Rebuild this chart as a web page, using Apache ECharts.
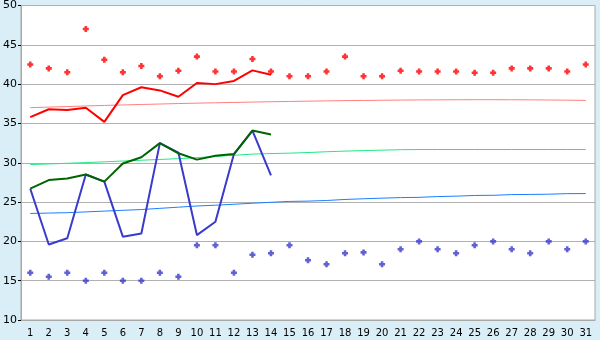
<!DOCTYPE html>
<html><head><meta charset="utf-8">
<script src="https://cdn.jsdelivr.net/npm/echarts@6/dist/echarts.min.js"></script>
<style>html,body{margin:0;padding:0;background:#d9eef6;}#c{width:600px;height:340px;}</style>
</head><body><div id="c"></div>
<script>
const categories = ['1','2','3','4','5','6','7','8','9','10','11','12','13','14','15','16','17','18','19','20','21','22','23','24','25','26','27','28','29','30','31'];
const redLine = [35.8,36.8,36.7,37.0,35.2,38.6,39.6,39.2,38.4,40.15,40.0,40.4,41.75,41.2];
const greenLine = [26.7,27.8,28.0,28.5,27.6,29.9,30.7,32.5,31.2,30.4,30.9,31.1,34.1,33.6];
const blueLine = [26.7,19.6,20.4,28.5,27.6,20.6,21.0,32.5,31.3,20.8,22.5,31.1,34.1,28.4];
const redPoints = [42.5,42,41.5,47,43.1,41.5,42.3,41,41.7,43.5,41.6,41.6,43.2,41.6,41,41,41.6,43.5,41,41,41.7,41.6,41.6,41.6,41.45,41.45,42,42,42,41.6,42.5];
const bluePoints = [16,15.5,16,15,16,15,15,16,15.5,19.5,19.5,16,18.3,18.5,19.5,17.6,17.1,18.5,18.6,17.1,19,20,19,18.5,19.5,20,19,18.5,20,19,20];
const redTrend = [37.0,37.08,37.15,37.22,37.29,37.35,37.41,37.47,37.53,37.58,37.63,37.67,37.72,37.76,37.8,37.83,37.87,37.9,37.92,37.95,37.97,37.99,38.0,38.01,38.02,38.02,38.01,38.0,37.98,37.96,37.93];
const greenTrend = [29.77,29.85,29.93,30.02,30.12,30.22,30.32,30.42,30.52,30.65,30.8,30.95,31.1,31.17,31.22,31.3,31.4,31.48,31.55,31.6,31.66,31.68,31.68,31.68,31.68,31.68,31.68,31.68,31.68,31.68,31.68];
const blueTrend = [23.55,23.6,23.65,23.75,23.85,23.95,24.05,24.2,24.35,24.5,24.6,24.72,24.85,24.97,25.08,25.12,25.2,25.33,25.42,25.5,25.57,25.6,25.7,25.75,25.84,25.86,25.95,25.97,26.0,26.07,26.08];
const yTicks = {min:10, max:50, interval:5};

const plus = 'path://M2,0H5V2H7V5H5V7H2V5H0V2H2Z';
const chart = echarts.init(document.getElementById('c'), null, {renderer:'canvas'});
function line(data, color, width, z){
  return {type:'line', data, symbol:'none', lineStyle:{color, width}, z, silent:true, animation:false};
}
chart.setOption({
  backgroundColor:'#d9eef6',
  animation:false,
  grid:{left:20,right:5,top:5,bottom:20,show:true,backgroundColor:'#ffffff',borderColor:'#a8a8a8',borderWidth:1},
  xAxis:{type:'category',data:categories,boundaryGap:true,
    axisLine:{lineStyle:{color:'#a8a8a8',width:1}},
    axisTick:{alignWithLabel:true,length:5,lineStyle:{color:'#000'}},
    axisLabel:{color:'#000',fontFamily:'DejaVu Sans',fontSize:10,margin:8,interval:0},
    splitLine:{show:false}},
  yAxis:{type:'value',min:yTicks.min,max:yTicks.max,interval:yTicks.interval,
    axisLine:{show:true,lineStyle:{color:'#a8a8a8',width:1}},
    axisTick:{show:true,length:3,lineStyle:{color:'#000'}},
    axisLabel:{color:'#000',fontFamily:'DejaVu Sans',fontSize:11,margin:4},
    splitLine:{lineStyle:{color:'#b0b0b0',width:1}}},
  series:[
    line(redTrend,'#ff8080',1,1),
    line(greenTrend,'#22e884',1,1),
    line(blueTrend,'#1a80ff',1,1),
    line(redLine,'#ff0000',2,3),
    line(blueLine,'#3a3acc',2,3),
    line(greenLine,'#006400',2,4),
    {type:'scatter',data:redPoints,symbol:plus,symbolSize:6,itemStyle:{color:'#ff0000'},z:5,silent:true},
    {type:'scatter',data:bluePoints,symbol:plus,symbolSize:6,itemStyle:{color:'#3a3acc'},z:5,silent:true}
  ]
});
</script></body></html>
